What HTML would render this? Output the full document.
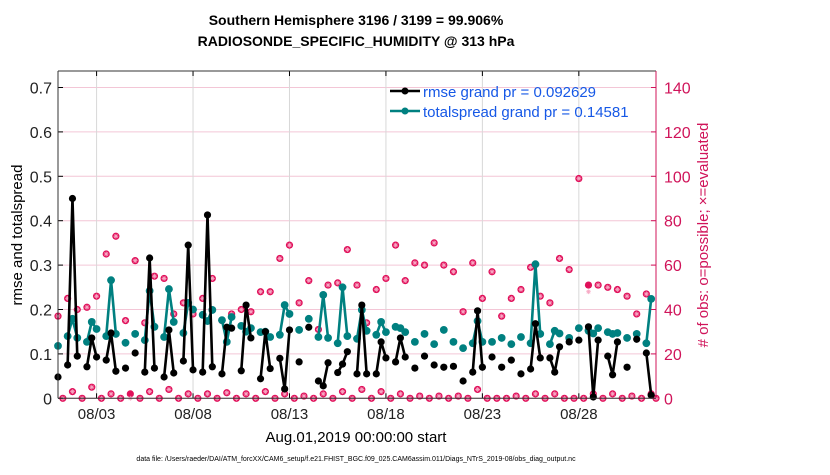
<!DOCTYPE html>
<html><head><meta charset="utf-8"><style>
body{margin:0;background:#fff;width:830px;height:470px;overflow:hidden;font-family:"Liberation Sans",sans-serif}
</style></head><body>
<svg id="chart" width="830" height="470" xmlns="http://www.w3.org/2000/svg" font-family="Liberation Sans, sans-serif">
<g font-weight="bold" font-size="14" text-anchor="middle">
<text x="356" y="25">Southern Hemisphere 3196 / 3199 = 99.906%</text>
<text x="356" y="46">RADIOSONDE_SPECIFIC_HUMIDITY @ 313 hPa</text>
</g>
<g id="grid"></g>
<g id="marks"></g>
<g id="axes"></g>
<text x="22" y="235" transform="rotate(-90 22 235)" text-anchor="middle" font-size="15">rmse and totalspread</text>
<text x="708" y="235" transform="rotate(-90 708 235)" text-anchor="middle" font-size="15" fill="#d0145a"># of obs: o=possible; ×=evaluated</text>
<text x="356" y="442" text-anchor="middle" font-size="15">Aug.01,2019 00:00:00 start</text>
<text x="356" y="461" text-anchor="middle" font-size="7">data file: /Users/raeder/DAI/ATM_forcXX/CAM6_setup/f.e21.FHIST_BGC.f09_025.CAM6assim.011/Diags_NTrS_2019-08/obs_diag_output.nc</text>
<g>
<line x1="390" y1="91" x2="420" y2="91" stroke="#000" stroke-width="2.5"/>
<circle cx="405" cy="91" r="3.5" fill="#000"/>
<text x="423" y="97" font-size="15" fill="#1658e6">rmse grand pr = 0.092629</text>
<line x1="390" y1="111" x2="420" y2="111" stroke="#008080" stroke-width="2.5"/>
<circle cx="405" cy="111" r="3.5" fill="#008080"/>
<text x="423" y="117" font-size="15" fill="#1658e6">totalspread grand pr = 0.14581</text>
</g>
</svg>
<script>
const NaN_=NaN;
const rmse=[0.048,NaN,0.075,0.45,0.095,NaN,0.071,0.136,0.093,NaN,0.086,0.147,0.061,NaN,0.068,NaN,0.102,NaN,0.059,0.316,0.068,NaN,0.048,0.154,0.057,NaN,0.084,0.345,0.064,NaN,0.059,0.413,0.071,NaN,0.055,0.16,0.158,NaN,0.062,0.21,0.136,NaN,0.044,0.15,0.067,NaN,0.09,0.021,0.154,NaN,0.082,NaN,0.16,NaN,0.039,0.028,0.08,NaN,0.058,0.077,0.105,NaN,0.055,0.21,0.055,NaN,0.055,0.127,0.091,NaN,0.082,0.136,0.093,NaN,0.068,NaN,0.095,NaN,0.075,NaN,0.07,NaN,0.072,NaN,0.039,NaN,0.059,0.197,0.07,NaN,0.093,NaN,0.07,NaN,0.086,NaN,0.055,NaN,0.066,0.168,0.091,NaN,0.091,0.059,0.116,NaN,0.127,NaN,0.131,NaN,0.161,0.003,0.131,NaN,0.095,0.053,0.127,NaN,0.07,NaN,0.133,NaN,0.102,0.007,NaN];
const spread=[0.118,NaN,0.14,0.179,0.136,NaN,0.127,0.172,0.156,NaN,0.14,0.266,0.145,NaN,0.125,NaN,0.145,NaN,0.131,0.242,0.161,NaN,0.138,0.246,0.172,NaN,0.147,0.215,0.2,NaN,0.188,0.174,0.199,NaN,0.176,0.127,0.183,NaN,0.163,0.15,0.158,NaN,0.149,0.15,0.138,NaN,0.143,0.21,0.19,NaN,0.154,NaN,0.179,NaN,0.138,0.233,0.136,NaN,0.124,0.25,0.14,NaN,0.134,0.199,0.152,NaN,0.143,0.172,0.149,NaN,0.161,0.158,0.149,NaN,0.127,NaN,0.145,NaN,0.122,NaN,0.154,NaN,0.127,NaN,0.113,NaN,0.124,0.174,0.127,NaN,0.127,NaN,0.136,NaN,0.122,NaN,0.138,NaN,0.124,0.302,0.145,NaN,0.122,0.152,0.146,NaN,0.136,NaN,0.158,NaN,0.152,0.146,0.158,NaN,0.149,0.145,0.147,NaN,0.136,NaN,0.145,NaN,0.124,0.224,NaN];
const possible=[37,0,45,3,40,0,41,5,46,0,65,2,73,0,35,2,62,0,34,3,55,0,54,4,38,0,43,2,38,0,45,2,54,0,35,2.5,38,0,40,2,39,0,48,3,48,0,63,2,69,0,43,1,53,0,31,2,51,0,52,3,67,0,51,4,34,0,49,3,54,0,69,2,53,0,61,1,60,0,70,1,60,0,57,1,39,0,61,4,45,0,57,0,37,0,45,1,49,0,59,2,46,0,43,2,63,0,58,0,99,0,51,2,51,0,50,2,49,0,46,1,38,0,47,2,0];
const evaluated=[37,0,45,3,40,0,41,5,46,0,65,2,73,0,35,0,62,0,34,3,55,0,54,4,38,0,43,2,38,0,45,2,54,0,35,2.5,38,0,40,2,39,0,48,3,48,0,63,2,69,0,43,1,53,0,31,2,51,0,52,3,67,0,51,4,34,0,49,3,54,0,69,2,53,0,61,1,60,0,70,1,60,0,57,1,39,0,61,4,45,0,57,0,37,0,45,1,49,0,59,2,46,0,43,2,63,0,58,0,99,0,48,2,51,0,50,2,49,0,46,1,38,0,47,2,0];
const xTickLabels=["08/03","08/08","08/13","08/18","08/23","08/28"];
const xTickDays=[2,7,12,17,22,27];
const yTicks=[0,0.1,0.2,0.3,0.4,0.5,0.6,0.7];
const y2Ticks=[0,20,40,60,80,100,120,140];

const L=58,R=656,T=71,B=398.3,YMAX=(B-T)/444,Y2MAX=YMAX*200;
const ns="http://www.w3.org/2000/svg";
const xDay=d=>L+d*(R-L)/31;
const xi=i=>xDay(i/4);
const y=v=>B-v/YMAX*(B-T);
const y2=c=>B-c/Y2MAX*(B-T);
function mk(tag,attrs,parent){const e=document.createElementNS(ns,tag);for(const k in attrs)e.setAttribute(k,attrs[k]);parent.appendChild(e);return e;}
const grid=document.getElementById('grid'),marks=document.getElementById('marks'),axes=document.getElementById('axes');

yTicks.forEach(v=>{
  const g=mk('line',{x1:L,x2:R,y1:y(v),y2:y(v),stroke:'#f3c6d6','stroke-width':1},grid);
  
  
  const t=mk('line',{x1:L,x2:L+5,y1:y(v),y2:y(v),stroke:'#000'},axes);
  const lab=mk('text',{x:L-6,y:y(v)+6,'text-anchor':'end','font-size':16,fill:'#222'},axes);
  lab.textContent=String(v);
  
  
});
y2Ticks.forEach(c=>{
  mk('line',{x1:R-5,x2:R,y1:y2(c),y2:y2(c),stroke:'#d0145a'},axes);
  const lab=mk('text',{x:R+8,y:y2(c)+6,'font-size':16,fill:'#d0145a'},axes);
  lab.textContent=String(c);
  
  
});
xTickDays.forEach((d,k)=>{
  const g=mk('line',{x1:xDay(d),x2:xDay(d),y1:T,y2:B,stroke:'#d8d8d8'},grid);
  
  
  mk('line',{x1:xDay(d),x2:xDay(d),y1:B-5,y2:B,stroke:'#000'},axes);
  mk('line',{x1:xDay(d),x2:xDay(d),y1:T,y2:T+5,stroke:'#000'},axes);
  const lab=mk('text',{x:xDay(d),y:419,'text-anchor':'middle','font-size':15,fill:'#222'},axes);
  lab.textContent=xTickLabels[k];
  
  
});
mk('line',{x1:L,x2:R,y1:T,y2:T,stroke:'#333'},axes);
mk('line',{x1:L,x2:R,y1:B,y2:B,stroke:'#333'},axes);
mk('line',{x1:L,x2:L,y1:T,y2:B,stroke:'#333'},axes);
mk('line',{x1:R,x2:R,y1:T,y2:B,stroke:'#d0145a'},axes);

// pink counts
possible.forEach((c,i)=>{
  const cx=xi(i),cy=y2(c);
  const p=mk('circle',{cx:cx,cy:cy,r:3.6,fill:'#e0105a'},marks);
  
  
  const e=evaluated[i],ey=y2(e);
  const s=mk('path',{d:`M${cx-2.4},${ey}H${cx+2.4}M${cx},${ey-2.4}V${ey+2.4}M${cx-1.7},${ey-1.7}L${cx+1.7},${ey+1.7}M${cx-1.7},${ey+1.7}L${cx+1.7},${ey-1.7}`,stroke:'#f7a8c4','stroke-width':0.8},marks);
  
  
});
function series(vals,color,name,star){
  let d='';let pen=false;
  vals.forEach((v,i)=>{if(isNaN(v)){pen=false;return;}d+=(pen?'L':'M')+xi(i)+','+y(v);pen=true;});
  const p=mk('path',{d:d,fill:'none',stroke:color,'stroke-width':2.6,'stroke-linejoin':'round'},marks);
  
  
  vals.forEach((v,i)=>{if(isNaN(v))return;
    const c=mk('circle',{cx:xi(i),cy:y(v),r:star?3.6:3.9,fill:color},marks);
    
    
  });
}
series(spread,'#008080','totalspread',false);
series(rmse,'#000','rmse',true);
</script>
</body></html>
